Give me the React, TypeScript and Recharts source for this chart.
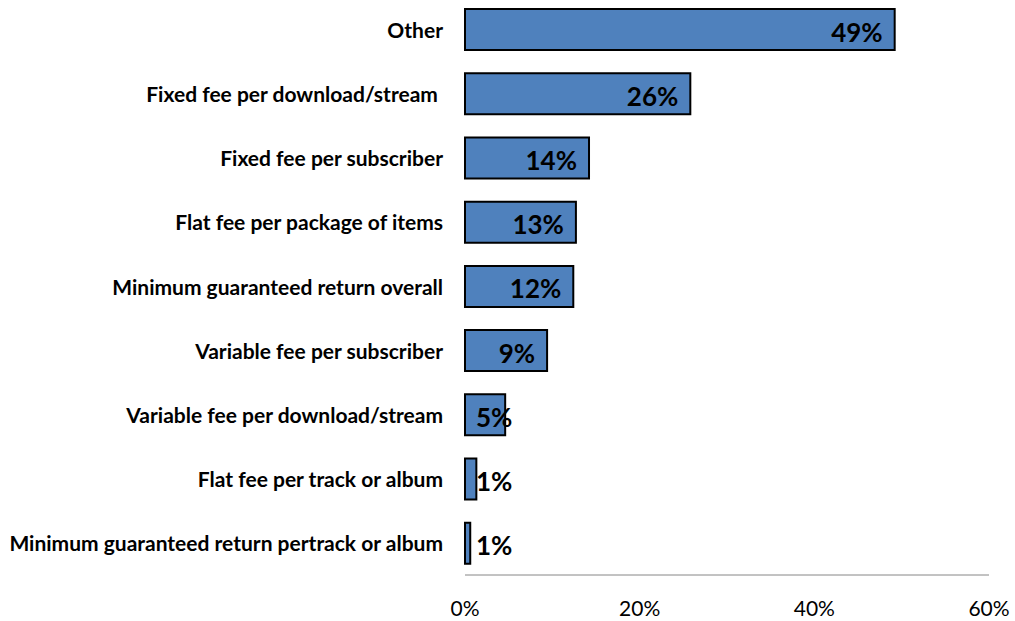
import { Bar, BarChart, LabelList, XAxis, YAxis } from 'recharts';

const categories = [
  'Other',
  'Fixed fee per download/stream ',
  'Fixed fee per subscriber',
  'Flat fee per package of items',
  'Minimum guaranteed return overall',
  'Variable fee per subscriber',
  'Variable fee per download/stream',
  'Flat fee per track or album',
  'Minimum guaranteed return pertrack or album'
];
const shares = [49.2, 25.8, 14.2, 12.7, 12.4, 9.4, 4.6, 1.3, 0.6];
const xTicks = [0, 20, 40, 60];

const data = categories.map((name, i) => ({ name, value: shares[i] }));

const FONT = 'Lato, "Open Sans", sans-serif';

function CategoryTick(props: any) {
  const { x, y, payload } = props;
  return (
    <text
      x={x}
      y={y}
      textAnchor="end"
      dominantBaseline="central"
      fontFamily={FONT}
      fontWeight={700}
      fontSize={21}
      fill="#000"
      style={{ whiteSpace: 'pre' }}
    >
      {payload.value}
    </text>
  );
}

function ValueLabel(props: any) {
  const { x, y, width, height, value } = props;
  const text = `${Math.round(value)}%`;
  const textW = text.length * 16;
  const end = x + width - 12;
  const fits = end - textW >= x + 11;
  return (
    <text
      x={fits ? end : x + 11}
      y={y + height / 2 + 2}
      textAnchor={fits ? 'end' : 'start'}
      dominantBaseline="central"
      fontFamily={FONT}
      fontWeight={700}
      fontSize={26}
      fill="#000"
    >
      {text}
    </text>
  );
}

export default function App() {
  return (
    <div style={{ position: 'absolute', left: 0, top: 0, background: '#fff' }}>
      <BarChart
        width={1015}
        height={621}
        data={data}
        layout="vertical"
        margin={{ top: -3, right: 26, bottom: 0, left: 0 }}
      >
        <XAxis
          type="number"
          domain={[0, 60]}
          ticks={xTicks}
          tickFormatter={(v) => `${v}%`}
          axisLine={{ stroke: '#868686', strokeWidth: 1 }}
          tickLine={false}
          tickSize={0}
          tickMargin={26}
          height={46}
          tick={{ fontFamily: FONT, fontSize: 21, fill: '#000' }}
          interval={0}
        />
        <YAxis
          type="category"
          dataKey="name"
          width={465}
          axisLine={false}
          tickLine={false}
          tickSize={0}
          tickMargin={22}
          interval={0}
          tick={<CategoryTick />}
        />
        <Bar dataKey="value" fill="#4F81BD" stroke="#000" strokeWidth={2} barSize={41} isAnimationActive={false}>
          <LabelList dataKey="value" content={<ValueLabel />} />
        </Bar>
      </BarChart>
    </div>
  );
}
